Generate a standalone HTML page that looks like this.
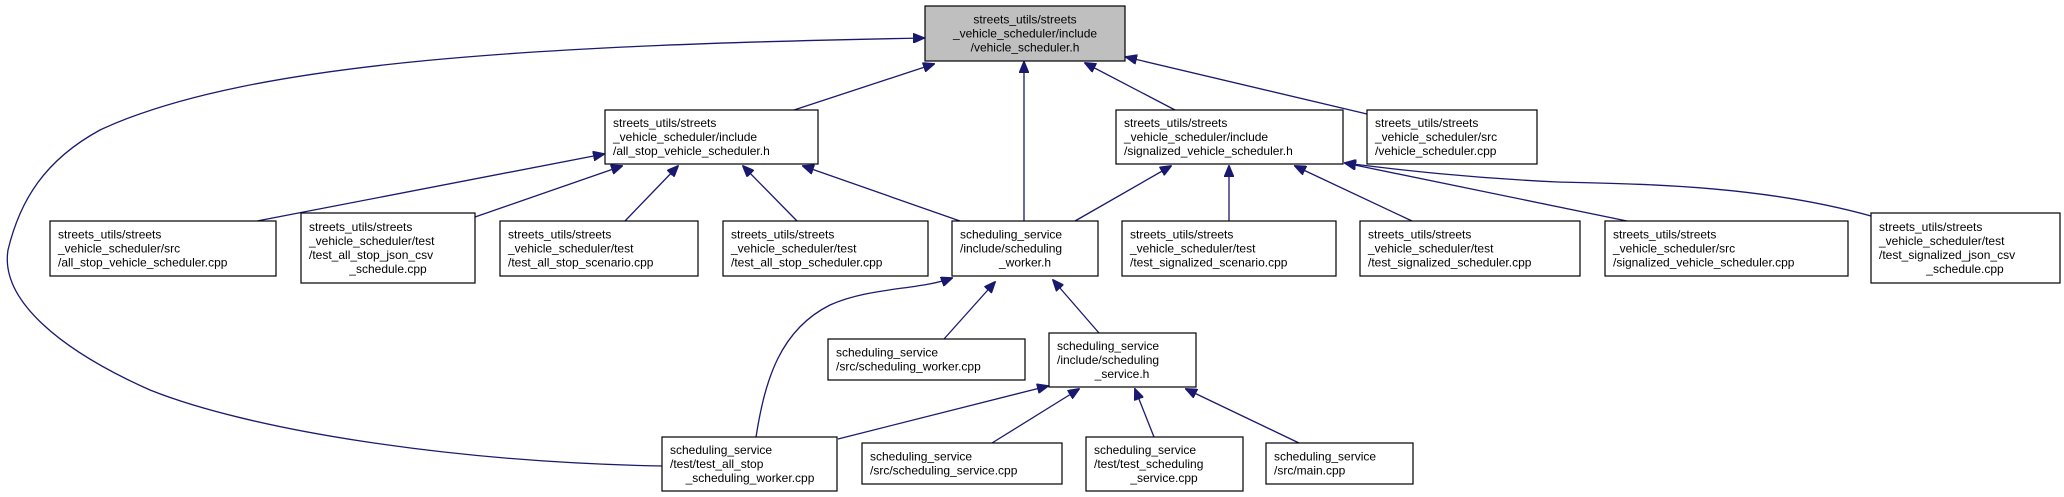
<!DOCTYPE html>
<html><head><meta charset="utf-8"><style>
html,body{margin:0;padding:0;background:#fff;}
svg{display:block;}
text{font-family:"Liberation Sans",sans-serif;font-size:12px;fill:#000;}
.c{text-anchor:middle;}
rect{fill:#fff;stroke:#000;stroke-width:1.2;}
path{fill:none;stroke:#191970;stroke-width:1.3;}
</style></head><body>
<svg width="2064" height="497" viewBox="0 0 2064 497" xmlns="http://www.w3.org/2000/svg">
<defs><marker id="a" markerWidth="12" markerHeight="10" refX="11" refY="5" orient="auto" markerUnits="userSpaceOnUse"><path d="M0,0 L12,5 L0,10 Z" style="fill:#191970;stroke:#191970;stroke-width:1"/></marker></defs>

<path marker-end="url(#a)" d="M794,110 L934,64"/>
<path marker-end="url(#a)" d="M662,466 C450,462 250,430 150,390 C60,350 0,300 8,250 C20,200 45,160 100,130 C250,60 550,45 924,38"/>
<path marker-end="url(#a)" d="M1024,221 L1024,62"/>
<path marker-end="url(#a)" d="M1175,110 L1085,63"/>
<path marker-end="url(#a)" d="M1367,114 L1126,57"/>
<path marker-end="url(#a)" d="M257,221 L604,154"/>
<path marker-end="url(#a)" d="M475,217 L622,166"/>
<path marker-end="url(#a)" d="M625,221 L678,166"/>
<path marker-end="url(#a)" d="M797,221 L743,166"/>
<path marker-end="url(#a)" d="M960,221 L803,166"/>
<path marker-end="url(#a)" d="M1075,221 L1171,166"/>
<path marker-end="url(#a)" d="M1229,221 L1229,166"/>
<path marker-end="url(#a)" d="M1412,221 L1295,166"/>
<path marker-end="url(#a)" d="M1627,221 L1345,163"/>
<path marker-end="url(#a)" d="M1871,216 C1760,185 1640,184 1558,182 C1470,178 1400,170 1345,163"/>
<path marker-end="url(#a)" d="M756,437 C765,380 780,330 830,305 C870,287 920,290 952,278"/>
<path marker-end="url(#a)" d="M944,339 L995,282"/>
<path marker-end="url(#a)" d="M1099,333 L1053,280"/>
<path marker-end="url(#a)" d="M838,439 L1048,386"/>
<path marker-end="url(#a)" d="M992,443 L1079,389"/>
<path marker-end="url(#a)" d="M1154,437 L1135,389"/>
<path marker-end="url(#a)" d="M1299,443 L1186,389"/>

<rect x="925" y="6" width="200" height="55" style="fill:#bfbfbf"/>
<text class="c" x="1025" y="23.5">streets_utils/streets</text>
<text class="c" x="1025" y="37.5">_vehicle_scheduler/include</text>
<text class="c" x="1025" y="51.5">/vehicle_scheduler.h</text>

<rect x="605" y="110" width="213" height="54"/>
<text x="613" y="127">streets_utils/streets</text>
<text x="613" y="141">_vehicle_scheduler/include</text>
<text x="613" y="155">/all_stop_vehicle_scheduler.h</text>

<rect x="1116" y="110" width="227" height="54"/>
<text x="1124" y="127">streets_utils/streets</text>
<text x="1124" y="141">_vehicle_scheduler/include</text>
<text x="1124" y="155">/signalized_vehicle_scheduler.h</text>

<rect x="1367" y="110" width="170" height="54"/>
<text x="1375" y="127">streets_utils/streets</text>
<text x="1375" y="141">_vehicle_scheduler/src</text>
<text x="1375" y="155">/vehicle_scheduler.cpp</text>

<rect x="50" y="221" width="226" height="55"/>
<text x="58" y="238.5">streets_utils/streets</text>
<text x="58" y="252.5">_vehicle_scheduler/src</text>
<text x="58" y="266.5">/all_stop_vehicle_scheduler.cpp</text>

<rect x="301" y="213" width="174" height="70"/>
<text x="309" y="231">streets_utils/streets</text>
<text x="309" y="245">_vehicle_scheduler/test</text>
<text x="309" y="259">/test_all_stop_json_csv</text>
<text class="c" x="388" y="273">_schedule.cpp</text>

<rect x="500" y="221" width="198" height="55"/>
<text x="508" y="238.5">streets_utils/streets</text>
<text x="508" y="252.5">_vehicle_scheduler/test</text>
<text x="508" y="266.5">/test_all_stop_scenario.cpp</text>

<rect x="723" y="221" width="205" height="55"/>
<text x="731" y="238.5">streets_utils/streets</text>
<text x="731" y="252.5">_vehicle_scheduler/test</text>
<text x="731" y="266.5">/test_all_stop_scheduler.cpp</text>

<rect x="952" y="221" width="146" height="55"/>
<text x="960" y="238.5">scheduling_service</text>
<text x="960" y="252.5">/include/scheduling</text>
<text class="c" x="1025" y="266.5">_worker.h</text>

<rect x="1122" y="221" width="214" height="55"/>
<text x="1130" y="238.5">streets_utils/streets</text>
<text x="1130" y="252.5">_vehicle_scheduler/test</text>
<text x="1130" y="266.5">/test_signalized_scenario.cpp</text>

<rect x="1360" y="221" width="220" height="55"/>
<text x="1368" y="238.5">streets_utils/streets</text>
<text x="1368" y="252.5">_vehicle_scheduler/test</text>
<text x="1368" y="266.5">/test_signalized_scheduler.cpp</text>

<rect x="1605" y="221" width="243" height="55"/>
<text x="1613" y="238.5">streets_utils/streets</text>
<text x="1613" y="252.5">_vehicle_scheduler/src</text>
<text x="1613" y="266.5">/signalized_vehicle_scheduler.cpp</text>

<rect x="1871" y="213" width="189" height="70"/>
<text x="1879" y="231">streets_utils/streets</text>
<text x="1879" y="245">_vehicle_scheduler/test</text>
<text x="1879" y="259">/test_signalized_json_csv</text>
<text class="c" x="1965" y="273">_schedule.cpp</text>

<rect x="828" y="339" width="197" height="41"/>
<text x="836" y="356.5">scheduling_service</text>
<text x="836" y="370.5">/src/scheduling_worker.cpp</text>

<rect x="1049" y="333" width="147" height="54"/>
<text x="1057" y="350">scheduling_service</text>
<text x="1057" y="364">/include/scheduling</text>
<text class="c" x="1122" y="378">_service.h</text>

<rect x="662" y="437" width="175" height="54"/>
<text x="670" y="454">scheduling_service</text>
<text x="670" y="468">/test/test_all_stop</text>
<text class="c" x="750" y="482">_scheduling_worker.cpp</text>

<rect x="862" y="443" width="200" height="41"/>
<text x="870" y="460.5">scheduling_service</text>
<text x="870" y="474.5">/src/scheduling_service.cpp</text>

<rect x="1086" y="437" width="157" height="54"/>
<text x="1094" y="454">scheduling_service</text>
<text x="1094" y="468">/test/test_scheduling</text>
<text class="c" x="1164" y="482">_service.cpp</text>

<rect x="1266" y="443" width="147" height="41"/>
<text x="1274" y="460.5">scheduling_service</text>
<text x="1274" y="474.5">/src/main.cpp</text>
</svg>
</body></html>
